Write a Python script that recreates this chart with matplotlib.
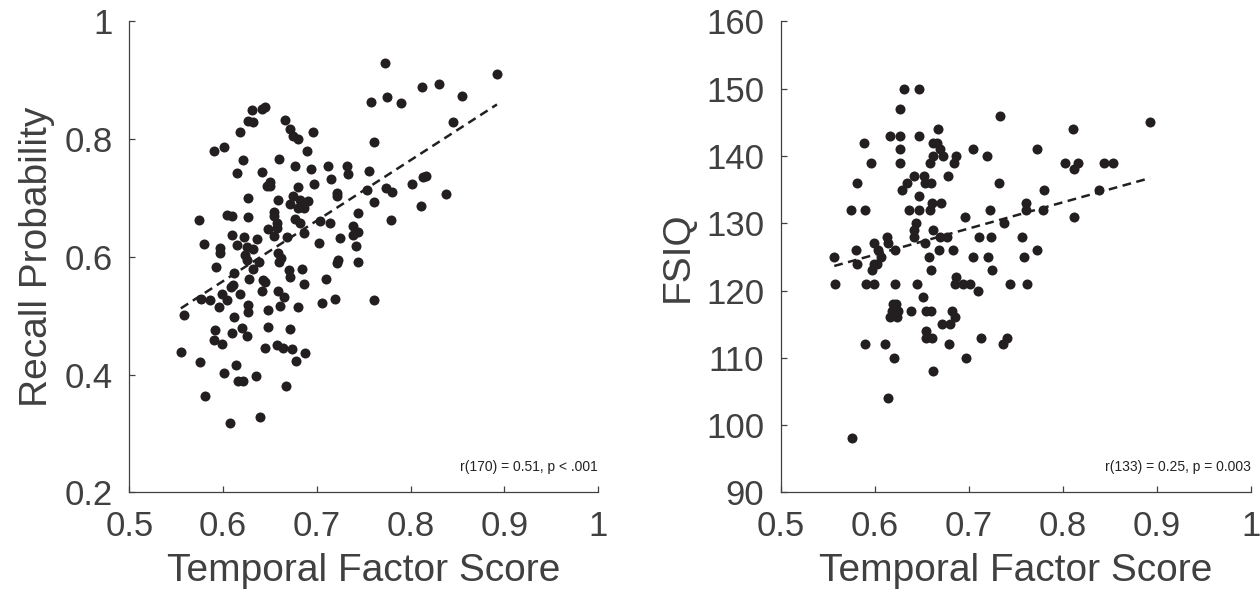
import numpy as np
import matplotlib
matplotlib.use("Agg")
import matplotlib.pyplot as plt

plt.rcParams['font.family'] = ['Liberation Sans', 'DejaVu Sans']

# Left panel: temporal factor score vs recall probability
recall_x = [0.758, 0.645, 0.642, 0.631, 0.627, 0.632, 0.666, 0.671, 0.675, 0.680, 0.696, 0.618, 0.761,
            0.590, 0.601, 0.689, 0.621, 0.660, 0.615, 0.642, 0.677, 0.694, 0.712, 0.732, 0.733, 0.756,
            0.715, 0.697, 0.650, 0.647, 0.650, 0.680, 0.753, 0.627, 0.659, 0.675, 0.682, 0.691, 0.671,
            0.680, 0.686, 0.722, 0.721, 0.761, 0.654, 0.654, 0.604, 0.609, 0.627, 0.574, 0.677, 0.682,
            0.703, 0.714, 0.744, 0.739, 0.744, 0.738, 0.657, 0.648, 0.657, 0.686,
            0.610, 0.622, 0.636, 0.654, 0.668, 0.702, 0.725, 0.742, 0.744, 0.723, 0.721, 0.580, 0.597,
            0.597, 0.615, 0.625, 0.632, 0.623, 0.625, 0.659, 0.662, 0.660, 0.638, 0.632, 0.592, 0.612,
            0.628, 0.643, 0.645, 0.670, 0.671, 0.684, 0.686, 0.710, 0.608, 0.611, 0.641, 0.659, 0.665,
            0.599, 0.604, 0.596, 0.618, 0.577, 0.586, 0.558, 0.627, 0.627, 0.612, 0.648, 0.661, 0.680,
            0.706, 0.719, 0.761, 0.591, 0.590, 0.599, 0.610, 0.620, 0.626, 0.648, 0.671, 0.645, 0.657,
            0.664, 0.673, 0.687, 0.678, 0.555, 0.575, 0.614, 0.601, 0.616, 0.621, 0.635, 0.667, 0.581,
            0.607, 0.639,
            0.773, 0.775, 0.790, 0.812, 0.830, 0.855, 0.892, 0.845, 0.774, 0.780, 0.801, 0.813, 0.816,
            0.838, 0.811, 0.779]
recall_y = [0.863, 0.855, 0.851, 0.849, 0.831, 0.829, 0.833, 0.817, 0.806, 0.801, 0.812, 0.812, 0.795,
            0.780, 0.786, 0.780, 0.765, 0.767, 0.742, 0.744, 0.755, 0.750, 0.755, 0.755, 0.741, 0.746,
            0.732, 0.724, 0.728, 0.720, 0.720, 0.719, 0.714, 0.700, 0.696, 0.703, 0.697, 0.695, 0.690,
            0.683, 0.683, 0.708, 0.703, 0.693, 0.677, 0.669, 0.671, 0.670, 0.668, 0.662, 0.665, 0.658,
            0.661, 0.658, 0.674, 0.653, 0.642, 0.637, 0.657, 0.647, 0.649, 0.641,
            0.637, 0.634, 0.631, 0.635, 0.634, 0.624, 0.632, 0.618, 0.591, 0.595, 0.589, 0.622, 0.615,
            0.607, 0.620, 0.617, 0.613, 0.603, 0.595, 0.606, 0.598, 0.591, 0.591, 0.579, 0.582, 0.573,
            0.563, 0.561, 0.558, 0.578, 0.565, 0.579, 0.554, 0.563, 0.548, 0.552, 0.542, 0.542, 0.532,
            0.537, 0.527, 0.514, 0.537, 0.528, 0.527, 0.501, 0.518, 0.507, 0.498, 0.509, 0.517, 0.515,
            0.522, 0.529, 0.527, 0.475, 0.459, 0.452, 0.470, 0.479, 0.466, 0.481, 0.477, 0.446, 0.450,
            0.446, 0.443, 0.437, 0.423, 0.439, 0.422, 0.416, 0.403, 0.389, 0.389, 0.398, 0.381, 0.364,
            0.317, 0.328,
            0.930, 0.872, 0.862, 0.889, 0.894, 0.874, 0.910, 0.830, 0.717, 0.710, 0.724, 0.736, 0.737,
            0.707, 0.687, 0.662]

# Right panel: temporal factor score vs FSIQ
fsiq_x = [0.631, 0.647, 0.627, 0.667, 0.589, 0.616, 0.627, 0.647, 0.627, 0.662, 0.666, 0.669, 0.673,
          0.662, 0.659, 0.684, 0.687, 0.596, 0.627, 0.678, 0.642, 0.652, 0.654, 0.660, 0.634, 0.629,
          0.581, 0.647, 0.575, 0.590, 0.637, 0.647, 0.659, 0.661, 0.671, 0.644, 0.642, 0.642, 0.662,
          0.654, 0.669, 0.677, 0.668, 0.683, 0.599, 0.613, 0.614, 0.622, 0.604, 0.607, 0.580, 0.557,
          0.658,
          0.581, 0.597, 0.599, 0.602, 0.660, 0.558, 0.591, 0.599, 0.622, 0.645, 0.651, 0.685, 0.687,
          0.620, 0.623, 0.618, 0.625, 0.616, 0.624, 0.639, 0.655, 0.660, 0.682, 0.685, 0.672, 0.680,
          0.655, 0.655, 0.661, 0.590, 0.611, 0.679, 0.621, 0.662, 0.614, 0.576,
          0.733, 0.811, 0.893, 0.705, 0.720, 0.773, 0.802, 0.816, 0.812, 0.844, 0.854, 0.732, 0.780,
          0.839, 0.761, 0.761, 0.779, 0.723, 0.696, 0.812, 0.738, 0.711, 0.724, 0.757, 0.773, 0.705,
          0.721, 0.759,
          0.725, 0.694, 0.701, 0.710, 0.744, 0.762, 0.713, 0.741, 0.737, 0.697]
fsiq_y = [150, 150, 147, 144, 142, 143, 143, 143, 141, 142, 142, 141, 140,
          140, 139, 139, 140, 139, 139, 137, 137, 137, 136, 136, 136, 135,
          136, 134, 132, 132, 132, 132, 132, 133, 133, 130, 129, 128, 129,
          127, 128, 128, 126, 126, 127, 128, 127, 126, 126, 125, 126, 125,
          125,
          124, 123, 124, 124, 123, 121, 121, 121, 121, 121, 119, 121, 122,
          118, 118, 117, 117, 116, 116, 117, 117, 117, 117, 116, 115, 115,
          114, 113, 113, 112, 112, 112, 110, 108, 104, 98,
          146, 144, 145, 141, 140, 141, 139, 139, 138, 139, 139, 136, 135,
          135, 133, 132, 132, 132, 131, 131, 130, 128, 128, 128, 126, 125,
          125, 125,
          123, 121, 121, 120, 121, 121, 113, 113, 112, 110]

x_ticks = [0.5, 0.6, 0.7, 0.8, 0.9, 1.0]
x_labels = ['0.5', '0.6', '0.7', '0.8', '0.9', '1']
recall_ticks = [0.2, 0.4, 0.6, 0.8, 1.0]
recall_labels = ['0.2', '0.4', '0.6', '0.8', '1']
fsiq_ticks = [90, 100, 110, 120, 130, 140, 150, 160]

DOT = '#231f20'
AX = '#404040'


def panel(ax, x, y, ylim, yticks, ylabels, ylabel, stat):
    x = np.array(x)
    y = np.array(y)
    ax.scatter(x, y, s=52, color=DOT, linewidths=0, zorder=3)
    # least-squares line over the observed x range
    k, b = np.polyfit(x, y, 1)
    xs = np.array([x.min(), x.max()])
    ax.plot(xs, k * xs + b, color=DOT, lw=1.8, dashes=(3.5, 2.2), zorder=2)
    ax.set_xlim(0.5, 1.0)
    ax.set_ylim(*ylim)
    ax.set_xticks(x_ticks)
    ax.set_xticklabels(x_labels)
    ax.set_yticks(yticks)
    ax.set_yticklabels(ylabels)
    for side in ['top', 'right']:
        ax.spines[side].set_visible(False)
    for side in ['left', 'bottom']:
        ax.spines[side].set_color(AX)
        ax.spines[side].set_linewidth(0.9)
    ax.tick_params(direction='in', length=4, width=0.9, colors=AX, labelsize=25)
    ax.tick_params(axis='x', pad=13)
    ax.tick_params(axis='y', pad=12)
    ax.set_xlabel('Temporal Factor Score', fontsize=28, color=AX, labelpad=7)
    ax.set_ylabel(ylabel, fontsize=28, color=AX, labelpad=7)
    ax.text(1.0, 0.054, stat, transform=ax.transAxes, ha='right', va='center',
            fontsize=10, color='#222222')


fig = plt.figure(figsize=(12.6, 5.96), dpi=100)
ax1 = fig.add_axes([0.1026, 0.174, 0.3722, 0.790])
ax2 = fig.add_axes([0.6196, 0.174, 0.3730, 0.790])

panel(ax1, recall_x, recall_y, (0.2, 1.0), recall_ticks, recall_labels,
      'Recall Probability', 'r(170) = 0.51, p < .001')
panel(ax2, fsiq_x, fsiq_y, (90, 160), fsiq_ticks, [str(t) for t in fsiq_ticks],
      'FSIQ', 'r(133) = 0.25, p = 0.003')

fig.savefig('out.png', dpi=100)
